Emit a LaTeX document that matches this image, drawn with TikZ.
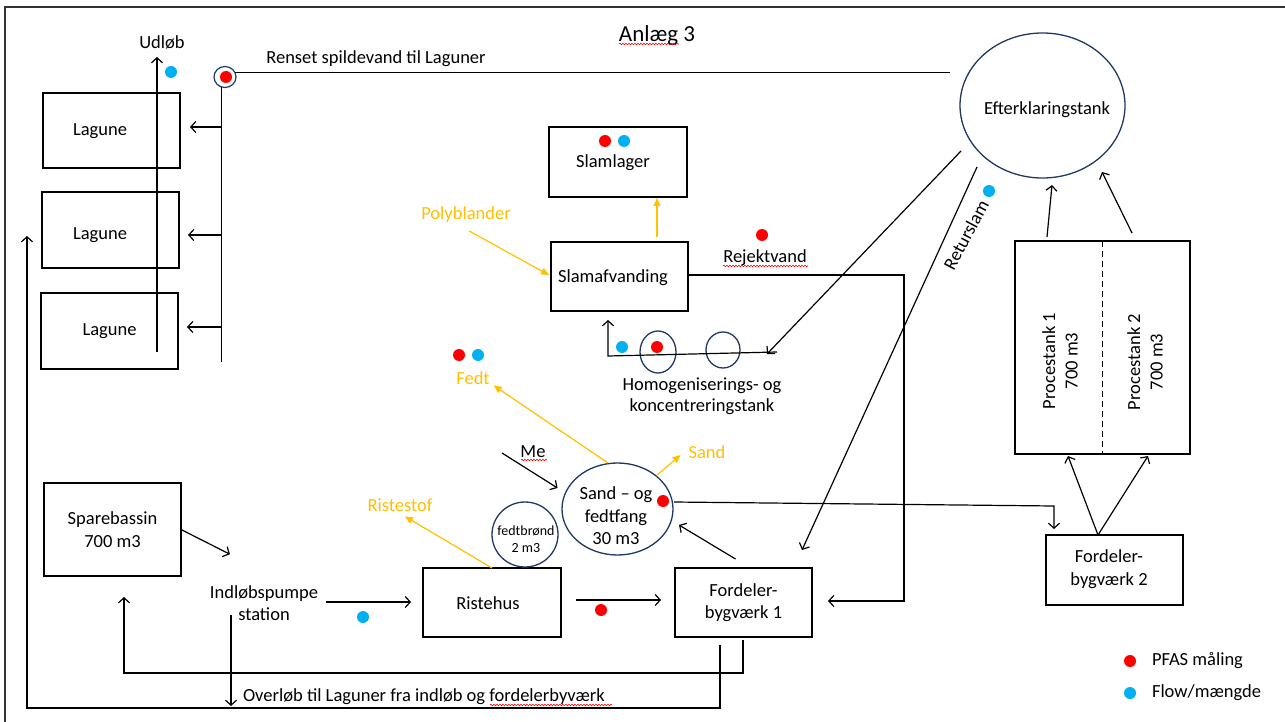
\documentclass[tikz,border=0pt]{standalone}
\usepackage{fontspec}
\setmainfont{Carlito}
\usetikzlibrary{arrows.meta,shapes.geometric,decorations.pathmorphing,calc}
\definecolor{ylw}{HTML}{FFC000}
\definecolor{tankc}{HTML}{203864}
\definecolor{pfas}{HTML}{FF0000}
\definecolor{flow}{HTML}{00B0F0}
\begin{document}
\begin{tikzpicture}[x=1pt,y=-1pt,
 every node/.style={inner sep=0pt, outer sep=0pt, font=\fontsize{18.5}{22.5}\selectfont},
 box/.style={draw, line width=1.8pt, minimum width=137pt, align=center},
 tank/.style={ellipse, draw=tankc, line width=1.3pt},
 ln/.style={line width=1.2pt},
 arr/.style={line width=1.2pt, -{Straight Barb[length=5pt,width=11pt]}},
 yarr/.style={draw=ylw, line width=1.2pt, -{Triangle[length=8pt,width=7pt]}},
 ylab/.style={text=ylw},
 dot/.style={circle, fill=#1, minimum size=12pt},
 squig/.style={draw=red, line width=0.6pt, decorate, decoration={snake, amplitude=0.8pt, segment length=3pt}},
]
\useasboundingbox (0,0) rectangle (1285,722);
\fill[white] (0,0) rectangle (1285,722);
% frame
\draw[line width=1.5pt, black!80] (5,722) -- (5,7) -- (1285,7);

% title
\node[font=\fontsize{23}{27}\selectfont] (title) at (657,35) {Anlæg 3};

% lagoons
\node[box, minimum height=75pt] (lag1) at (111.5,130.5) {};
\node (lag1txt) at (100,131) {Lagune};
\node[box, minimum height=76pt] (lag2) at (110.5,230) {};
\node (lag2txt) at (100,235) {Lagune};
\node[box, minimum height=76pt] (lag3) at (109.5,331) {Lagune};

% other boxes
\node[box, minimum height=93pt] (spare) at (112.5,529.5) {Sparebassin\\700 m3};
\node[box, minimum height=69pt, minimum width=138pt] (riste) at (492,602.5) {};
\node (ristetxt) at (488,603) {Ristehus};
\node[box, minimum height=69pt] (ford1) at (743.5,602.5) {Fordeler-\\bygværk 1};
\node[box, minimum height=70pt] (ford2) at (1114.5,570) {};
\node[align=center] (ford2txt) at (1109,569) {Fordeler-\\bygværk 2};
\node[box, minimum height=70pt, minimum width=138pt] (slaml) at (618,162) {};
\node (slamltxt) at (613,163) {Slamlager};
\node[box, minimum height=69pt] (slamaf) at (619.5,276.5) {};
\node (slamaftxt) at (613,278) {Slamafvanding};
\node[box, minimum height=213pt, minimum width=175pt] (proc) at (1102.5,347.5) {};
\draw[dashed, line width=1.2pt, dash pattern=on 6pt off 4pt] (proc.north) -- (proc.south);
\node[rotate=90, align=center] (p1) at (1060,361) {Procestank 1\\700 m3};
\node[rotate=90, align=center] (p2) at (1145,362) {Procestank 2\\700 m3};

% tanks
\node[tank, minimum width=165pt, minimum height=145pt] (eft) at (1042.5,105.5) {};
\node (efttxt) at (1047,110) {Efterklaringstank};
\node[tank, minimum width=111pt, minimum height=92pt] (sand) at (617.5,509) {};
\node[align=center] (sandtxt) at (616,516) {Sand -- og\\fedtfang\\30 m3};
\node[tank, minimum width=66pt, minimum height=65pt] (fedtb) at (525,534.5) {};
\node[align=center, font=\fontsize{14}{17}\selectfont] (fedtbtxt) at (526,539) {fedtbrønd\\2 m3};
\node[tank, minimum width=36pt, minimum height=42pt] (hom1) at (658,352) {};
\node[tank, minimum width=34pt, minimum height=36pt] (hom2) at (723,350) {};
\node[align=center, font=\fontsize{18.5}{21.5}\selectfont] (homtxt) at (702,396) {Homogeniserings- og\\koncentreringstank};
\node[tank, line width=1.2pt, minimum width=22pt, minimum height=21pt] (ring) at (225,77) {};

% labels
\node (udlob) at (162,42) {Udløb};
\node (renset) at (376,59) {Renset spildevand til Laguner};
\node[ylab] (polyb) at (466,215) {Polyblander};
\node (rejekt) at (765,258) {Rejektvand};
\node[ylab] (fedt) at (473,378) {Fedt};
\node (me) at (533,452) {Me};
\node[ylab] (sandl) at (707,452) {Sand};
\node[ylab] (ristestof) at (400,505) {Ristestof};
\node[align=center] (pump) at (264,603) {Indløbspumpe\\station};
\node[anchor=west] (overlob) at (243,697) {Overløb til Laguner fra indløb og fordelerbyværk};
\node[rotate=62] (retur) at (966,235) {Returslam};
\node[anchor=west] (leg1) at (1152,661) {PFAS måling};
\node[anchor=west] (leg2) at (1152,693) {Flow/mængde};

% spell-check squiggles
\draw[squig] (619,44) -- (679,44);
\draw[squig] (521,460) -- (547,460);
\draw[squig] (723,266) -- (808,266);
\draw[squig] (490,705) -- (612,705);

% dots
\node[dot=flow] (dU) at (171,72) {};
\node[dot=pfas] (dR) at (226,77) {};
\node[dot=pfas] (dS1) at (605,141) {};
\node[dot=flow] (dS2) at (624,141) {};
\node[dot=pfas] (dRj) at (762,235) {};
\node[dot=flow] (dH1) at (622,347) {};
\node[dot=pfas] (dH2) at (657,347) {};
\node[dot=pfas] (dF1) at (459,355) {};
\node[dot=flow] (dF2) at (478,355) {};
\node[dot=flow] (dRt) at (989,191) {};
\node[dot=pfas] (dSd) at (663,501) {};
\node[dot=flow] (dP) at (363,617) {};
\node[dot=pfas] (dRi) at (601,610) {};
\node[dot=pfas] (dL1) at (1130,661) {};
\node[dot=flow] (dL2) at (1130,693) {};

% coordinates
\coordinate (rend) at (950,72);
\coordinate (dbot) at (0,362);
\coordinate (ubot) at (157,352);
\coordinate (utop) at (157,57);

% treated water to lagoons
\draw[ln] (ring.25) -- (ring.25 -| rend);
\draw[ln] (ring.250) -- (ring.250 |- dbot);
\draw[arr] (ring.250 |- 0,127) -- ($(lag1.east)+(10,-3.5)$);
\draw[arr] (ring.250 |- 0,235) -- ($(lag2.east)+(9,5)$);
\draw[arr] (ring.250 |- 0,327) -- ($(lag3.east)+(9,-4)$);
\draw[arr] (ubot) -- (utop);

% overflow loops
\draw[arr] ($(ford1.south)+(-23.5,8)$) |- (27,708) -- (27,236);
\draw[arr] ($(ford1.south)+(-0.5,3)$) |- (124,673) -- ($(spare.south)+(11.5,21)$);
\draw[arr] (231,615) -- (231,706);

% main water line
\draw[arr] (spare.east) -- ($(pump.north west)+(20,-31)$);
\draw[arr] ($(pump.east)+(8,-1)$) -- ($(riste.west)+(-12,-0.5)$);
\draw[arr] ($(riste.east)+(15,-2.5)$) -- ($(ford1.west)+(-14,-2.5)$);
\draw[arr] ($(ford1.north)+(-8,-9)$) -- ($(sand.center)+(61.5,16)$);
\draw[arr] (502,453) -- ($(sand.center)+(-60,-21)$);
\draw[arr] ($(sand.east)+(1,-7)$) -- (1054,506) -- ($(ford2.north west)+(8,-6)$);
\draw[arr] ($(ford2.north)+(-16.5,0)$) -- ($(proc.south west)+(53,2)$);
\draw[arr] ($(ford2.north)+(-16.5,0)$) -- ($(proc.south west)+(133,2)$);
\draw[arr] ($(proc.north west)+(32,-4)$) -- ($(eft.south)+(9.5,7)$);
\draw[arr] ($(proc.north west)+(117,-8)$) -- ($(eft.center)+(59.5,66.5)$);

% return sludge
\draw[arr] ($(eft.center)+(-81.5,45.5)$) -- (767,354);
\draw[arr] ($(eft.center)+(-65.5,61.5)$) -- ($(ford1.north east)+(-10,-18)$);

% reject water
\draw[arr] ($(slamaf.east)+(0,-1.5)$) -- (904,275) -- (904,601) -- ($(ford1.east)+(16,-1.5)$);

% homogenisation line
\draw[arr] (777,352) -- (608,356) -- ($(slamaf.south west)+(57,9)$);

% yellow flows
\draw[yarr] ($(slamaf.north)+(37.5,-5)$) -- ($(slaml.south)+(39,1)$);
\draw[yarr] ($(polyb.south)+(3,8)$) -- ($(slamaf.west)+(-2,-1.5)$);
\draw[yarr] (608,463) -- ($(fedt.south east)+(4,1)$);
\draw[yarr] (657,475) -- ($(sandl.west)+(-8,3)$);
\draw[yarr] (riste.north) -- ($(ristestof.south)+(5,5)$);
\end{tikzpicture}
\end{document}
